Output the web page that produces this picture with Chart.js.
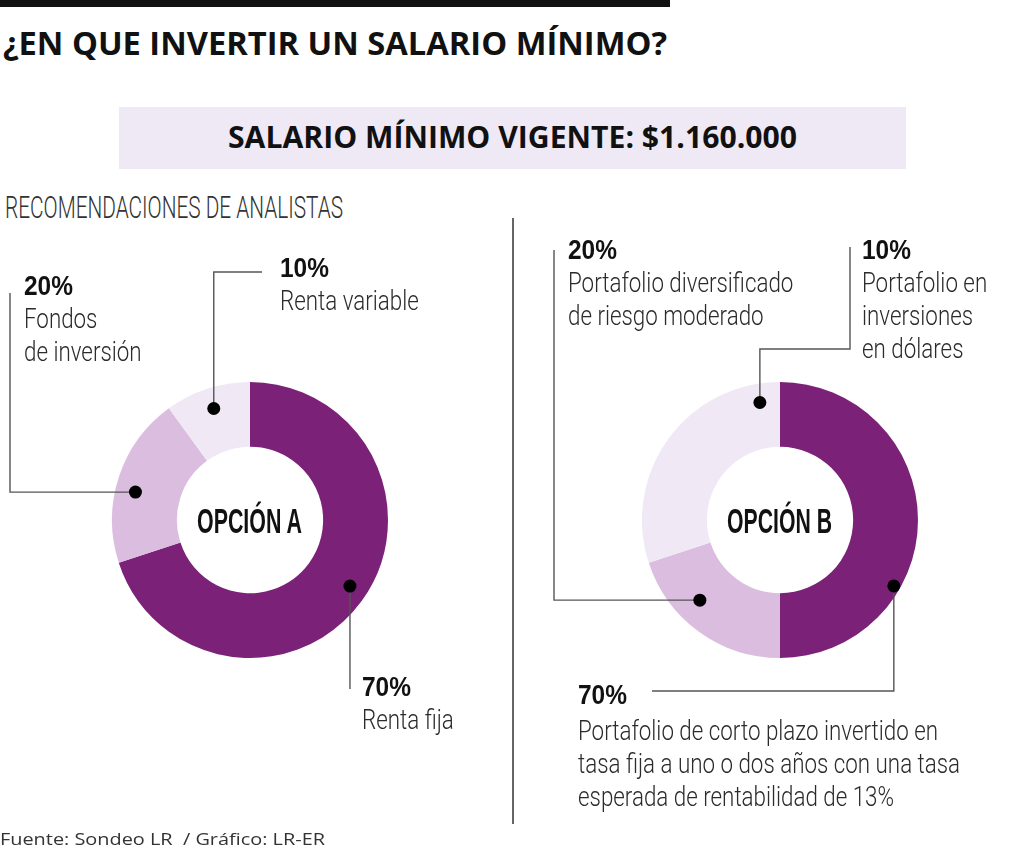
<!DOCTYPE html>
<html lang="es">
<head>
<meta charset="utf-8">
<title>¿En que invertir un salario mínimo?</title>
<script src="https://cdn.jsdelivr.net/npm/chart.js@4.4.1/dist/chart.umd.min.js"></script>
<style>
  body { margin: 0; background: #fff; }
  #page { position: relative; width: 1024px; height: 853px; overflow: hidden; background: #fff; }
  .t { position: absolute; white-space: nowrap; line-height: 1; display: inline-block; transform-origin: 0 50%; }
  .bar { position: absolute; left: 0; top: 0; width: 670px; height: 7px; background: #111; }
  .box { position: absolute; left: 119px; top: 107px; width: 787px; height: 62px; background: #efe9f6; }
  .sep { position: absolute; left: 512px; top: 218px; width: 1.5px; height: 606px; background: #666; }
  .chart { position: absolute; left: 0; top: 0; width: 1024px; height: 853px; }
  .title { font-family: 'Open Sans', sans-serif; font-weight: 700; color: #111; }
  .light { font-family: Roboto, 'Liberation Sans', sans-serif; font-weight: 300; }
  .cond { font-family: 'Liberation Sans', sans-serif; }
  .lbl { position: absolute; font-size: 28px; line-height: 33px; color: #2b2b2b; white-space: nowrap; }
  .lbl .pct span { display: inline-block; font-family: 'Liberation Sans', sans-serif; font-weight: bold;
                   color: #111; transform-origin: 0 50%; }
  .lbl .ln span { display: inline-block; font-family: Roboto, 'Liberation Sans', sans-serif; font-weight: 300;
                  transform-origin: 0 50%; }
</style>
</head>
<body>
<div id="page">
  <div class="bar"></div>
  <div class="t title" style="left:3px; top:27px; font-size:32px;" data-w="664">¿EN QUE INVERTIR UN SALARIO MÍNIMO?</div>
  <div class="box"></div>
  <div class="t title" style="left:228px; top:122px; font-size:30px;" data-w="569">SALARIO MÍNIMO VIGENTE: $1.160.000</div>
  <div class="t light" style="left:5px; top:191px; font-size:32px; color:#333;" data-w="338">RECOMENDACIONES DE ANALISTAS</div>
  <div class="sep"></div>

  <div class="chart"><canvas id="chartA"></canvas></div>
  <div class="chart"><canvas id="chartB"></canvas></div>

  <div class="t cond" style="left:197px; top:503px; font-size:35px; font-weight:bold; color:#111;" data-w="105">OPCIÓN A</div>
  <div class="t cond" style="left:727px; top:503px; font-size:35px; font-weight:bold; color:#111;" data-w="105">OPCIÓN B</div>

  <div id="labels"></div>

  <div class="t" style="left:0; top:830px; font-family:'Open Sans', sans-serif; font-size:17px; color:#333;" data-w="325">Fuente: Sondeo LR &nbsp;/ Gráfico: LR-ER</div>
</div>

<script>
// Data: Opción A
const categoriesA = ['Renta fija', 'Fondos de inversión', 'Renta variable'];
const valuesA = [70, 20, 10];
const pctLabelsA = ['70%', '20%', '10%'];
const textLinesA = [['Renta fija'], ['Fondos', 'de inversión'], ['Renta variable']];

// Data: Opción B (slice sizes as drawn in the graphic)
const categoriesB = [
    'Portafolio de corto plazo invertido en tasa fija',
    'Portafolio diversificado de riesgo moderado',
    'Portafolio en inversiones en dólares'
];
const valuesB = [50, 20, 30];
const pctLabelsB = ['70%', '20%', '10%'];
const textLinesB = [
    ['Portafolio de corto plazo invertido en', 'tasa fija a uno o dos años con una tasa', 'esperada de rentabilidad de 13%'],
    ['Portafolio diversificado', 'de riesgo moderado'],
    ['Portafolio en', 'inversiones', 'en dólares']
];

const sliceColors = ['#7b2278', '#dbbedf', '#f0e8f5'];

// Label block placement (page px)
const labelPosA = [
    { left: 362, top: 670 },
    { left: 24, top: 269 },
    { left: 280, top: 251 }
];
const labelPosB = [
    { left: 578, top: 678, gap: 3 },
    { left: 568, top: 233 },
    { left: 862, top: 233 }
];

// Leader lines: point inside each arc, then h/v moves to page x/y
const calloutsA = [
    { index: 0, along: 0.49, depth: 0.72, path: [['v', 689]] },
    { index: 1, along: 0.44, depth: 0.69, path: [['h', 10], ['v', 293]] },
    { index: 2, along: 0.5, depth: 0.68, path: [['v', 272], ['h', 262]] }
];
const calloutsB = [
    { index: 0, along: 0.667, depth: 0.9, path: [['v', 691], ['h', 652]] },
    { index: 1, along: 0.625, depth: 0.62, path: [['h', 554], ['v', 250]] },
    { index: 2, along: 0.91, depth: 0.71, path: [['v', 349], ['h', 850], ['v', 247]] }
];

// Draw leader lines and dots from the arc elements
const calloutPlugin = {
    id: 'callouts',
    afterDatasetsDraw(chart, args, opts) {
        const ctx = chart.ctx;
        const arcs = chart.getDatasetMeta(0).data;
        ctx.save();
        opts.items.forEach(item => {
            const p = arcs[item.index].getProps(['x', 'y', 'startAngle', 'endAngle', 'innerRadius', 'outerRadius'], true);
            const a = p.startAngle + (p.endAngle - p.startAngle) * item.along;
            const r = p.innerRadius + (p.outerRadius - p.innerRadius) * item.depth;
            const dx = p.x + Math.cos(a) * r;
            const dy = p.y + Math.sin(a) * r;
            let x = dx, y = dy;
            ctx.beginPath();
            ctx.moveTo(x, y);
            item.path.forEach(([dir, v]) => {
                if (dir === 'h') x = v; else y = v;
                ctx.lineTo(x, y);
            });
            ctx.strokeStyle = opts.lineColor;
            ctx.lineWidth = opts.lineWidth;
            ctx.stroke();
            ctx.beginPath();
            ctx.arc(dx, dy, opts.dotRadius, 0, Math.PI * 2);
            ctx.fillStyle = '#000';
            ctx.fill();
        });
        ctx.restore();
    }
};

const makeDonut = (id, labels, values, padding, items) => {
    const ctx = document.getElementById(id).getContext('2d');
    return new Chart(ctx, {
        type: 'doughnut',
        data: {
            labels: labels,
            datasets: [{
                data: values,
                backgroundColor: sliceColors,
                borderWidth: 0,
                hoverOffset: 0
            }]
        },
        options: {
            responsive: true,
            maintainAspectRatio: false,
            animation: false,
            events: [],
            cutout: '53%',
            layout: { padding: padding },
            plugins: {
                legend: { display: false },
                tooltip: { enabled: false },
                callouts: {
                    items: items,
                    lineColor: '#555',
                    lineWidth: 1.4,
                    dotRadius: 6.5
                }
            }
        },
        plugins: [calloutPlugin]
    });
};

// Build text blocks
const buildLabels = (pcts, lines, pos) => {
    const holder = document.getElementById('labels');
    pcts.forEach((pct, i) => {
        const block = document.createElement('div');
        block.className = 'lbl';
        block.style.left = pos[i].left + 'px';
        block.style.top = pos[i].top + 'px';
        const head = document.createElement('div');
        head.className = 'pct';
        const hs = document.createElement('span');
        hs.textContent = pct;
        head.appendChild(hs);
        if (pos[i].gap) head.style.marginBottom = pos[i].gap + 'px';
        block.appendChild(head);
        lines[i].forEach(text => {
            const ln = document.createElement('div');
            ln.className = 'ln';
            const span = document.createElement('span');
            span.textContent = text;
            ln.appendChild(span);
            block.appendChild(ln);
        });
        holder.appendChild(block);
    });
};

// Squeeze texts horizontally to the widths measured on the graphic
const squeeze = (els, ratio) => els.forEach(el => { el.style.transform = `scaleX(${ratio})`; });
const naturalWidth = el => { el.style.transform = 'none'; return el.getBoundingClientRect().width; };

const fitTexts = () => {
    document.querySelectorAll('[data-w]').forEach(el => {
        const w = naturalWidth(el);
        if (w > 0) el.style.transform = `scaleX(${el.dataset.w / w})`;
    });
    // body lines share one ratio, taken from the longest line (360px wide)
    const lines = [...document.querySelectorAll('.lbl .ln span')];
    const refLine = lines.find(s => s.textContent.startsWith('Portafolio de corto'));
    squeeze(lines, 360 / naturalWidth(refLine));
    // percentages share one ratio ("20%" is about 49px wide)
    const heads = [...document.querySelectorAll('.lbl .pct span')];
    squeeze(heads, 49 / naturalWidth(heads[1]));
};

buildLabels(pctLabelsA, textLinesA, labelPosA);
buildLabels(pctLabelsB, textLinesB, labelPosB);

makeDonut('chartA', categoriesA, valuesA, { left: 112, top: 382, right: 636, bottom: 195 }, calloutsA);
makeDonut('chartB', categoriesB, valuesB, { left: 642, top: 382, right: 106, bottom: 195 }, calloutsB);

fitTexts();
document.fonts.ready.then(fitTexts);
</script>
</body>
</html>
